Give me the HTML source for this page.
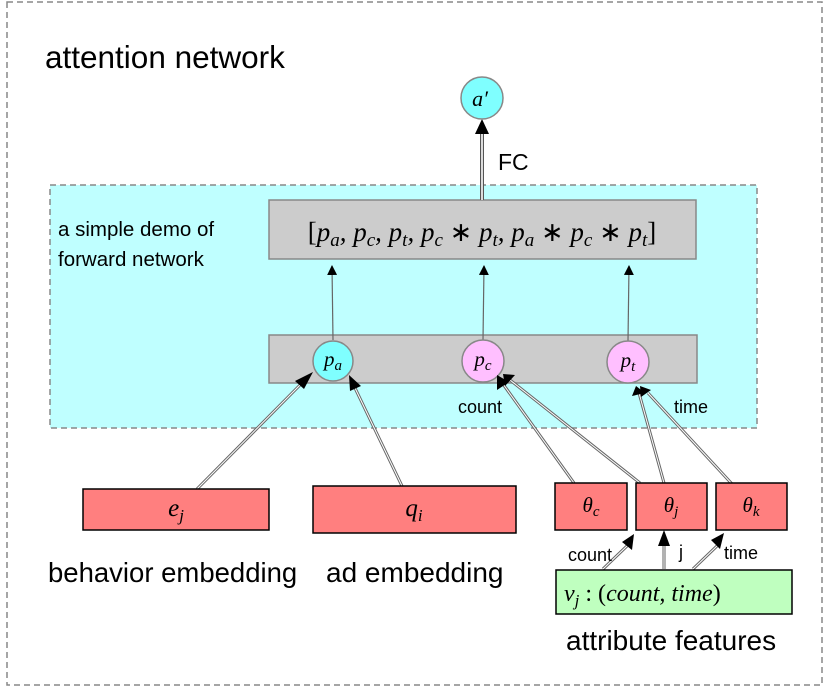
<!DOCTYPE html>
<html><head><meta charset="utf-8"><style>
html,body{margin:0;padding:0;background:#fff}
svg{display:block}
.s{font-family:"Liberation Sans",sans-serif;fill:#000}
.m{font-family:"Liberation Serif",serif;font-style:italic;fill:#000}
</style></head><body>
<svg width="830" height="692" viewBox="0 0 830 692" xmlns="http://www.w3.org/2000/svg">
<defs>
<marker id="ah" markerWidth="10" markerHeight="10" refX="9" refY="5" orient="auto" markerUnits="userSpaceOnUse" viewBox="0 0 10 10"><path d="M0,0 L10,5 L0,10 z" fill="#000"/></marker>
</defs>
<rect x="7" y="2" width="815" height="683" fill="none" stroke="#888" stroke-width="1.5" stroke-dasharray="6,4"/>
<text class="s" x="45" y="68" font-size="31.5">attention network</text>
<rect x="50" y="185" width="707" height="243" fill="#bfffff" stroke="#888" stroke-width="1.5" stroke-dasharray="6,4"/>
<text class="s" x="58" y="236" font-size="20.5">a simple demo of</text>
<text class="s" x="58" y="266" font-size="20.5">forward network</text>
<rect x="269" y="200" width="427" height="59" fill="#cccccc" stroke="#888" stroke-width="1.5"/>
<text class="m" x="482" y="241" font-size="27" text-anchor="middle"><tspan font-style="normal">[</tspan>p<tspan font-size="19" dy="5">a</tspan><tspan dy="-5">, p</tspan><tspan font-size="19" dy="5">c</tspan><tspan dy="-5">, p</tspan><tspan font-size="19" dy="5">t</tspan><tspan dy="-5">, p</tspan><tspan font-size="19" dy="5">c</tspan><tspan dy="-5" font-style="normal"> ∗ </tspan><tspan>p</tspan><tspan font-size="19" dy="5">t</tspan><tspan dy="-5">, p</tspan><tspan font-size="19" dy="5">a</tspan><tspan dy="-5" font-style="normal"> ∗ </tspan><tspan>p</tspan><tspan font-size="19" dy="5">c</tspan><tspan dy="-5" font-style="normal"> ∗ </tspan><tspan>p</tspan><tspan font-size="19" dy="5">t</tspan><tspan dy="-5" font-style="normal">]</tspan></text>
<rect x="269" y="335" width="428" height="48" fill="#cccccc" stroke="#888" stroke-width="1.5"/>
<line x1="482" y1="200" x2="482" y2="130" stroke="#555" stroke-width="4"/>
<line x1="482" y1="200" x2="482" y2="132" stroke="#fff" stroke-width="1.6"/>
<path d="M475,134 L482,119 L489,134 z" fill="#000"/>
<text class="s" x="498" y="170" font-size="23">FC</text>
<circle cx="482" cy="98" r="21" fill="#7fffff" stroke="#888" stroke-width="1.5"/>
<text class="m" x="480" y="106" font-size="22" text-anchor="middle">a′</text>
<g stroke="#666" stroke-width="1.2">
<line x1="333" y1="340" x2="332" y2="266" marker-end="url(#ah)"/>
<line x1="483" y1="340" x2="484" y2="266" marker-end="url(#ah)"/>
<line x1="628" y1="341" x2="629" y2="266" marker-end="url(#ah)"/>
</g>
<circle cx="333" cy="361" r="20" fill="#7fffff" stroke="#888" stroke-width="1.5"/>
<text class="m" x="333" y="366" font-size="21" text-anchor="middle">p<tspan font-size="15" dy="4">a</tspan></text>
<circle cx="483" cy="361" r="21" fill="#ffbfff" stroke="#888" stroke-width="1.5"/>
<text class="m" x="483" y="366" font-size="21" text-anchor="middle">p<tspan font-size="15" dy="4">c</tspan></text>
<circle cx="628" cy="362" r="21" fill="#ffbfff" stroke="#888" stroke-width="1.5"/>
<text class="m" x="628" y="367" font-size="21" text-anchor="middle">p<tspan font-size="15" dy="4">t</tspan></text>
<g fill="none">
<g stroke="#666" stroke-width="3">
<line x1="197" y1="489" x2="300" y2="385"/>
<line x1="402" y1="486" x2="355" y2="388"/>
<line x1="574" y1="483" x2="503" y2="384"/>
<line x1="640" y1="483" x2="510" y2="380"/>
<line x1="664" y1="483" x2="639" y2="393"/>
<line x1="733" y1="485" x2="648" y2="393"/>
<line x1="603" y1="569" x2="628" y2="545"/>
<line x1="664" y1="569" x2="664" y2="545"/>
<line x1="693" y1="569" x2="718" y2="545"/>
</g>
<g stroke="#fff" stroke-width="1">
<line x1="197" y1="489" x2="300" y2="385"/>
<line x1="402" y1="486" x2="355" y2="388"/>
<line x1="574" y1="483" x2="503" y2="384"/>
<line x1="640" y1="483" x2="510" y2="380"/>
<line x1="664" y1="483" x2="639" y2="393"/>
<line x1="733" y1="485" x2="648" y2="393"/>
<line x1="603" y1="569" x2="628" y2="545"/>
<line x1="664" y1="569" x2="664" y2="545"/>
<line x1="693" y1="569" x2="718" y2="545"/>
</g>
</g>
<g fill="#000">
<path d="M313,372 L295,381 L304,389 z"/>
<path d="M349,375 L350,391 L361,386 z"/>
<path d="M497,375 L497,390 L509,382 z"/>
<path d="M503,374 L505,386 L515,375 z"/>
<path d="M636,386 L632,396 L645,393 z"/>
<path d="M640,386 L641,397 L651,390 z"/>
<path d="M634,534 L622,542 L632,550 z"/>
<path d="M664,530 L658,546 L670,546 z"/>
<path d="M724,533 L711,540 L720,549 z"/>
</g>
<text class="s" x="458" y="413" font-size="18">count</text>
<text class="s" x="674" y="413" font-size="18">time</text>
<rect x="83" y="489" width="186" height="41" fill="#ff7f7f" stroke="#000" stroke-width="1.5"/>
<text class="m" x="176" y="516" font-size="25" text-anchor="middle">e<tspan font-size="17" dy="5">j</tspan></text>
<rect x="313" y="486" width="203" height="47" fill="#ff7f7f" stroke="#000" stroke-width="1.5"/>
<text class="m" x="414" y="516" font-size="25" text-anchor="middle">q<tspan font-size="17" dy="5">i</tspan></text>
<rect x="555" y="483" width="72" height="47" fill="#ff7f7f" stroke="#000" stroke-width="1.5"/>
<text class="m" x="591" y="512" font-size="21" text-anchor="middle">θ<tspan font-size="15" dy="4">c</tspan></text>
<rect x="636" y="483" width="71" height="47" fill="#ff7f7f" stroke="#000" stroke-width="1.5"/>
<text class="m" x="671" y="512" font-size="21" text-anchor="middle">θ<tspan font-size="15" dy="4">j</tspan></text>
<rect x="716" y="483" width="71" height="47" fill="#ff7f7f" stroke="#000" stroke-width="1.5"/>
<text class="m" x="751" y="512" font-size="21" text-anchor="middle">θ<tspan font-size="15" dy="4">k</tspan></text>
<text class="s" x="568" y="561" font-size="18">count</text>
<text class="s" x="679" y="558" font-size="18">j</text>
<text class="s" x="724" y="559" font-size="18">time</text>
<rect x="556" y="570" width="236" height="44" fill="#bfffbf" stroke="#000" stroke-width="1.5"/>
<text class="m" x="564" y="601" font-size="24">v<tspan font-size="17" dy="5">j</tspan><tspan dy="-5" font-style="normal"> : (</tspan>count, time<tspan font-style="normal">)</tspan></text>
<text class="s" x="48" y="582" font-size="27.5">behavior embedding</text>
<text class="s" x="326" y="582" font-size="28">ad embedding</text>
<text class="s" x="566" y="650" font-size="28">attribute features</text>
</svg>
</body></html>
